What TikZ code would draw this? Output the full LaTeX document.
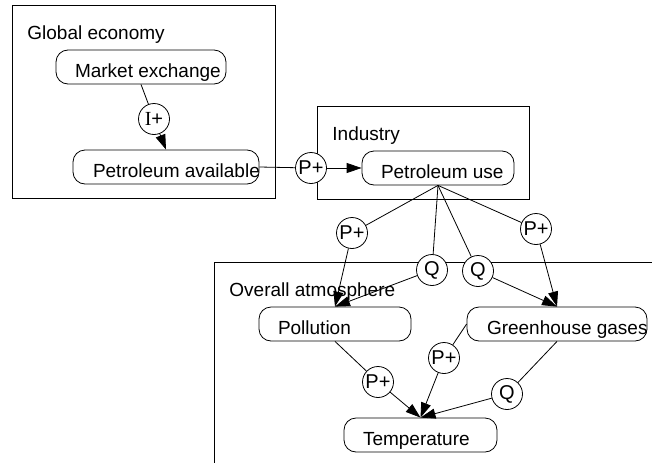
\documentclass[tikz,border=0pt]{standalone}
\usepackage{fontspec}
\setmainfont{Liberation Sans}
\newfontfamily\serifI{Liberation Serif}
\usetikzlibrary{arrows.meta}

\begin{document}
\begin{tikzpicture}[x=1pt, y=-1pt, line width=0.8pt,
  every node/.style={font=\fontsize{19}{23}\selectfont},
  rbox/.style={draw, rounded corners=12pt, minimum height=34pt, inner sep=0pt, fill=white},
  qual/.style={draw, circle, fill=white, minimum size=31pt, inner sep=0pt,
               font=\fontsize{20}{24}\selectfont},
  boxtext/.style={anchor=base west, inner sep=0pt},
  framelabel/.style={anchor=base west, inner sep=0pt},
  arr/.style={-{Triangle[length=15pt,width=10pt]}}
]
\useasboundingbox (0,0) rectangle (652,463);

% enclosing frames
\draw (12,5) rectangle (275,198);
\draw (317,106) rectangle (529,199);
\draw (652,262) -- (214,262) -- (214,463);
\node[framelabel] (geL) at (27,39) {Global economy};
\node[framelabel] (inL) at (332,140) {Industry};
\node[framelabel] (atL) at (229,296) {Overall atmosphere};

% quantities
\node[rbox, minimum width=170pt] (me)  at (141,67)  {};
\node[rbox, minimum width=186pt] (pa)  at (166,167) {};
\node[rbox, minimum width=152pt] (pu)  at (438,168) {};
\node[rbox, minimum width=152pt] (pol) at (335,324) {};
\node[rbox, minimum width=180pt] (gh)  at (557,324) {};
\node[rbox, minimum width=153pt] (tmp) at (420.5,435) {};

\node[boxtext] (meT)  at ([xshift=19pt,yshift=-10.5pt]me.west)  {Market exchange};
\node[boxtext] (paT)  at ([xshift=20pt,yshift=-10.5pt]pa.west)  {Petroleum available};
\node[boxtext] (puT)  at ([xshift=19pt,yshift=-10.5pt]pu.west)  {Petroleum use};
\node[boxtext] (polT) at ([xshift=19pt,yshift=-10.5pt]pol.west) {Pollution};
\node[boxtext] (ghT)  at ([xshift=20pt,yshift=-10.5pt]gh.west)  {Greenhouse gases};
\node[boxtext] (tmpT) at ([xshift=19pt,yshift=-10.5pt]tmp.west) {Temperature};

% influence / proportionality markers
\node[qual] (i1) at (154,119) {{\serifI I}+};
\node[qual] (p1) at (311,168) {P+};
\node[qual] (p2) at (352,233) {P+};
\node[qual] (q1) at (432,270) {Q};
\node[qual] (q2) at (478,271) {Q};
\node[qual] (p3) at (536,229) {P+};
\node[qual] (p4) at (378,382) {P+};
\node[qual] (p5) at (444,358) {P+};
\node[qual] (q3) at (507,394) {Q};

% connectors
\draw (me.south) -- (i1);
\draw[arr] (i1) -- (pa.north);
\draw (pa.east) -- (p1);
\draw[arr] (p1) -- (pu.west);

\draw (pu.south) -- (p2);
\draw[arr] (p2) -- (pol.north);
\draw (pu.south) -- (q1);
\draw[arr] (q1) -- (pol.north);
\draw (pu.south) -- (q2);
\draw[arr] (q2) -- (gh.north);
\draw (pu.south) -- (p3);
\draw[arr] (p3) -- (gh.north);

\draw (pol.south) -- (p4);
\draw[arr] (p4) -- (tmp.north);
\draw (gh.west) -- (p5);
\draw[arr] (p5) -- (tmp.north);
\draw (gh.south) -- (q3);
\draw[arr] (q3) -- (tmp.north);
\end{tikzpicture}
\end{document}
